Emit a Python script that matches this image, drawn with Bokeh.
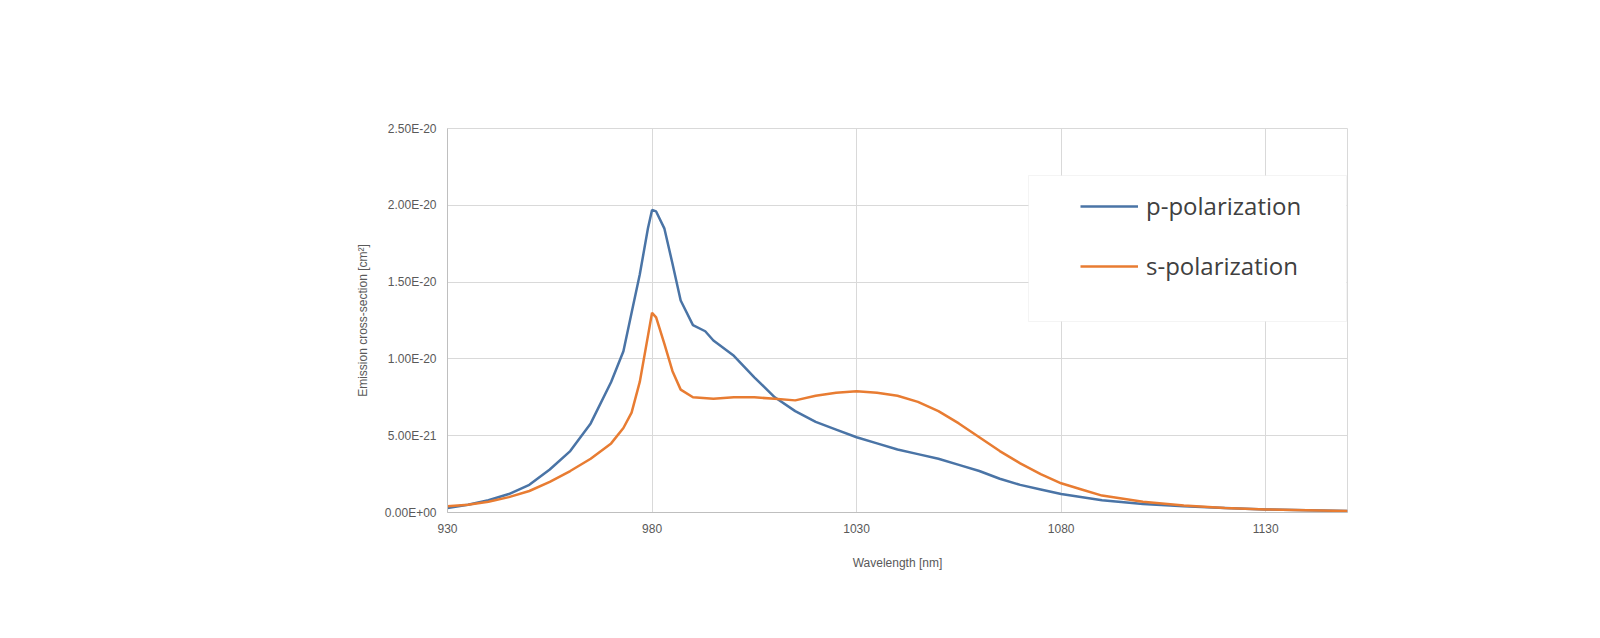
from bokeh.plotting import figure
from bokeh.models import Label, BoxAnnotation, Legend, LegendItem, FixedTicker
from bokeh.embed import file_html
from bokeh.resources import INLINE

wl_p = [930,935,940,945,950,955,960,965,970,973,975,977,979,980,981,983,985,987,990,993,995,1000,1005,1010,1015,1020,1025,1030,1035,1040,1045,1050,1055,1060,1065,1070,1075,1080,1090,1100,1110,1120,1130,1140,1150]
p_pol = [0.03,0.05,0.08,0.12,0.18,0.28,0.40,0.58,0.85,1.05,1.30,1.55,1.85,1.97,1.96,1.85,1.62,1.38,1.22,1.18,1.12,1.02,0.88,0.75,0.66,0.59,0.54,0.49,0.45,0.41,0.38,0.35,0.31,0.27,0.22,0.18,0.15,0.12,0.08,0.055,0.04,0.03,0.02,0.015,0.01]
wl_s = [930,935,940,945,950,955,960,965,970,973,975,977,979,980,981,983,985,987,990,995,1000,1005,1010,1015,1020,1025,1030,1035,1040,1045,1050,1055,1060,1065,1070,1075,1080,1085,1090,1100,1110,1120,1130,1140,1150]
s_pol = [0.04,0.05,0.07,0.10,0.14,0.20,0.27,0.35,0.45,0.55,0.65,0.85,1.15,1.30,1.27,1.10,0.92,0.80,0.75,0.74,0.75,0.75,0.74,0.73,0.76,0.78,0.79,0.78,0.76,0.72,0.66,0.58,0.49,0.40,0.32,0.25,0.19,0.15,0.11,0.07,0.045,0.03,0.02,0.015,0.01]
x_ticks = [930, 980, 1030, 1080, 1130]
y_ticks = [0e-20, 0.5e-20, 1.0e-20, 1.5e-20, 2.0e-20, 2.5e-20]
y_labels = ["0.00E+00", "5.00E-21", "1.00E-20", "1.50E-20", "2.00E-20", "2.50E-20"]

p = figure(width=1560, height=610, output_backend="svg", toolbar_location=None,
           x_range=(930, 1150), y_range=(0, 2.5e-20),
           min_border_left=447, min_border_right=213, min_border_top=128, min_border_bottom=98)
p.background_fill_color = "white"
p.border_fill_color = "white"
p.outline_line_color = "#d9d9d9"

r1 = p.line(wl_p, [v * 1e-20 for v in p_pol], line_color="#4a74a6", line_width=2.5)
r2 = p.line(wl_s, [v * 1e-20 for v in s_pol], line_color="#e87c32", line_width=2.5)

for ax in (p.xaxis[0], p.yaxis[0]):
    ax.major_tick_line_color = None
    ax.minor_tick_line_color = None
    ax.axis_line_color = "#bfbfbf"
    ax.major_label_text_color = "#595959"
    ax.major_label_text_font = "Liberation Sans"
    ax.major_label_text_font_size = "12px"
    ax.axis_label_text_color = "#595959"
    ax.axis_label_text_font = "Liberation Sans"
    ax.axis_label_text_font_size = "12px"
    ax.axis_label_text_font_style = "normal"
p.xaxis.ticker = FixedTicker(ticks=x_ticks)
p.yaxis.ticker = FixedTicker(ticks=y_ticks)
p.yaxis.major_label_overrides = {t: l for t, l in zip(y_ticks, y_labels)}
p.xaxis.axis_label = "Wavelength [nm]"
p.yaxis.axis_label = "Emission cross-section [cm²]"
p.xaxis.axis_label_standoff = 20
p.yaxis.axis_label_standoff = 12
p.xgrid.ticker = FixedTicker(ticks=x_ticks)
p.ygrid.ticker = FixedTicker(ticks=y_ticks)
p.xgrid.grid_line_color = "#d9d9d9"
p.ygrid.grid_line_color = "#d9d9d9"

p.add_layout(BoxAnnotation(left=581, right=899, bottom=191, top=337,
                           left_units="screen", right_units="screen",
                           bottom_units="screen", top_units="screen",
                           fill_color="white", fill_alpha=1, line_color="#d9d9d9", line_width=1))

legend = Legend(items=[LegendItem(label="p-polarization", renderers=[r1]),
                       LegendItem(label="s-polarization", renderers=[r2])],
                location=(633, 230), padding=0, margin=0, spacing=27,
                glyph_width=58, glyph_height=30, label_height=30, label_standoff=8,
                label_text_font="Open Sans", label_text_font_size="24px",
                label_text_color="#404040",
                border_line_color=None, background_fill_alpha=0)
p.add_layout(legend)

p.add_layout(Label(x=-377, y=457, x_units="screen", y_units="screen",
                   text="Emission cross-section of Yb:CALGO (2 %Yb), T=300 K",
                   text_font="Open Sans", text_font_size="33px", text_color="#4f75a3",
                   text_baseline="middle"))

open("out.html", "w").write(file_html(p, INLINE))
